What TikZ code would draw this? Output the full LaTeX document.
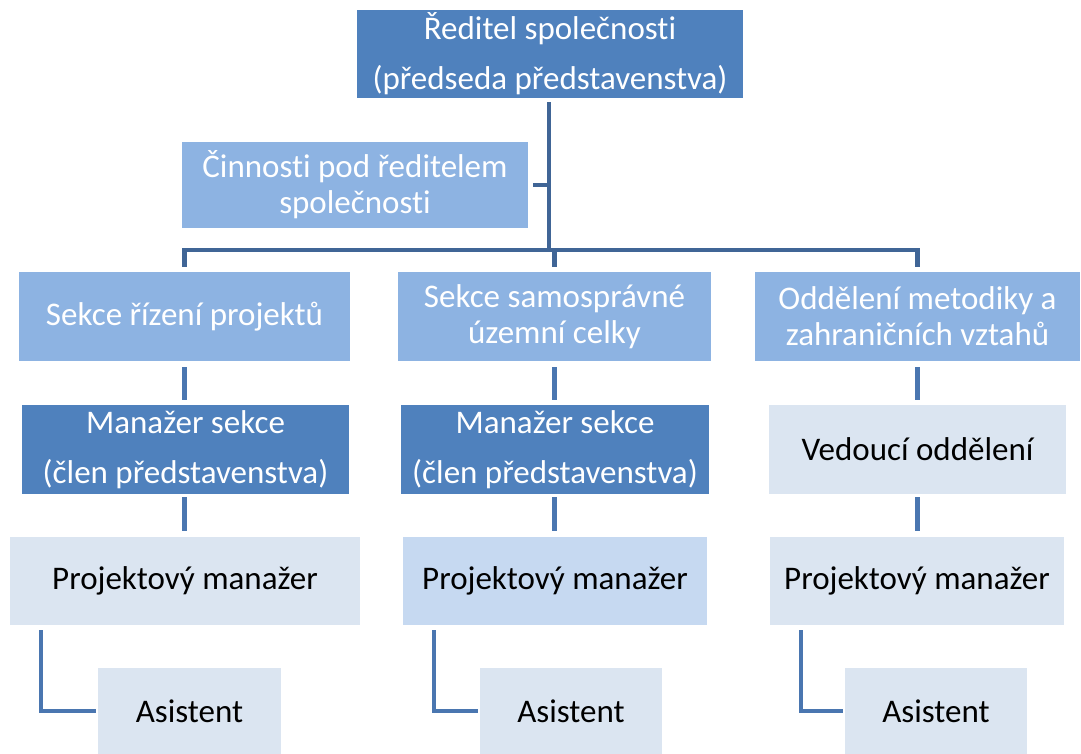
\documentclass[tikz,border=0pt]{standalone}
\usepackage{fontspec}
\setmainfont{Carlito}[Ligatures=NoCommon]
\usepackage{tikz}

\definecolor{chiefblue}{RGB}{79,129,189}
\definecolor{unitblue}{RGB}{141,179,226}
\definecolor{palestaff}{RGB}{219,229,241}
\definecolor{palemid}{RGB}{198,217,241}
\definecolor{treeline}{RGB}{64,101,150}
\definecolor{subline}{RGB}{74,118,176}

\begin{document}
\begin{tikzpicture}[x=1pt, y=-1pt,
  orgbox/.style={rectangle, inner sep=0pt, align=center},
  orgdark/.style={orgbox, fill=chiefblue, text=white, font=\fontsize{33}{50}\selectfont},
  orglight/.style={orgbox, fill=unitblue, text=white, font=\fontsize{33}{36}\selectfont},
  orgpale/.style={orgbox, fill=palestaff, text=black, font=\fontsize{33}{36}\selectfont},
  orgline/.style={draw=treeline, line width=4.5pt},
  orgsub/.style={draw=subline, line width=4.5pt}]

  \useasboundingbox (0,0) rectangle (1081,754);

  %% top
  \node[orgdark, minimum width=386pt, minimum height=88pt] (ceo) at (550,54) {Ředitel společnosti\\(předseda představenstva)};
  \node[orglight, minimum width=346pt, minimum height=86pt] (act) at (355,185) {Činnosti pod ředitelem\\společnosti};

  %% sections
  \node[orglight, minimum width=331pt, minimum height=89pt] (s1) at (184.5,316.5) {Sekce řízení projektů};
  \node[orglight, minimum width=313pt, minimum height=89pt] (s2) at (554.5,316.5) {Sekce samosprávné\\územní celky};
  \node[orglight, minimum width=325pt, minimum height=89pt] (s3) at (917.5,316.5) {Oddělení metodiky a\\zahraničních vztahů};

  %% heads
  \node[orgdark, minimum width=327pt, minimum height=89pt] (m1) at (185.5,449.5) {Manažer sekce\\(člen představenstva)};
  \node[orgdark, minimum width=308pt, minimum height=89pt] (m2) at (555,449.5) {Manažer sekce\\(člen představenstva)};
  \node[orgpale, minimum width=297pt, minimum height=89pt] (m3) at (917.5,449.5) {Vedoucí oddělení};

  %% project managers
  \node[orgpale, minimum width=350pt, minimum height=88pt] (p1) at (185,581) {Projektový manažer};
  \node[orgpale, fill=palemid, minimum width=304pt, minimum height=88pt] (p2) at (555,581) {Projektový manažer};
  \node[orgpale, minimum width=294pt, minimum height=88pt] (p3) at (917,581) {Projektový manažer};

  %% assistants
  \node[orgpale, minimum width=183pt, minimum height=86pt] (a1) at (189.5,711) {Asistent};
  \node[orgpale, minimum width=182pt, minimum height=86pt] (a2) at (571,711) {Asistent};
  \node[orgpale, minimum width=182pt, minimum height=86pt] (a3) at (936,711) {Asistent};

  \coordinate (hub) at (549,250);

  \draw[orgline] ([yshift=-4pt]ceo.south -| hub) -- (hub); %% ceo -> bar
  \draw[orgline] ([xshift=5pt]act.east) -- (act.east -| hub); %% act
  \draw[orgline] (hub) -| ([yshift=5pt]s1.north); %% bar left
  \draw[orgline] (hub) -| ([yshift=5pt]s3.north); %% bar right
  \draw[orgline] (hub -| s2.north) -- ([yshift=5pt]s2.north);

  \foreach \s/\m/\p/\a in {s1/m1/p1/a1, s2/m2/p2/a2, s3/m3/p3/a3} {
    \draw[orgsub] ([yshift=-6pt]\s.south) -- ([yshift=5pt]\s.south |- \m.north);
    \draw[orgsub] ([yshift=-3pt]\s.south |- \m.south) -- ([yshift=6pt]\s.south |- \p.north);
    \draw[orgsub] ([xshift=31pt,yshift=-5pt]\p.south west) |- ([xshift=-2pt]\a.west);
  }

\end{tikzpicture}
\end{document}
